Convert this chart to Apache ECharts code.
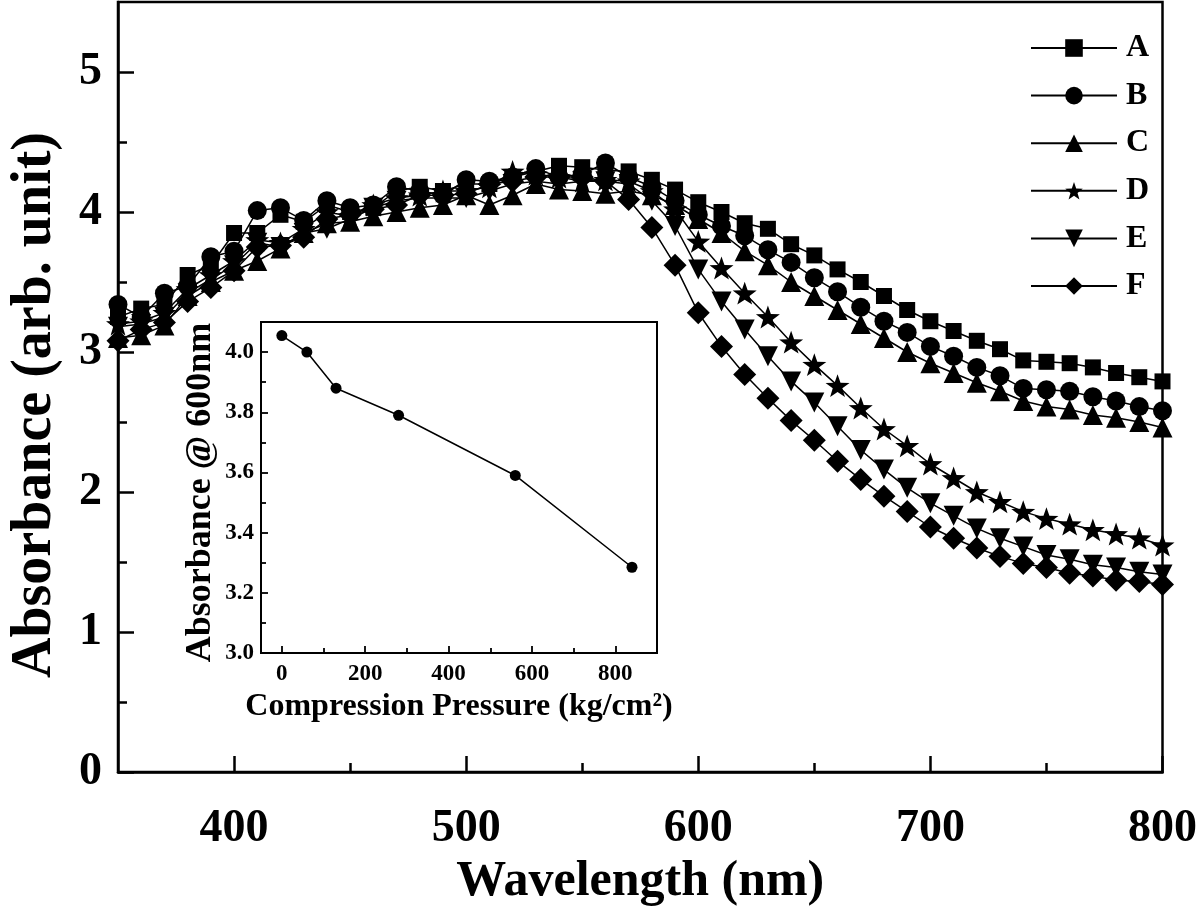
<!DOCTYPE html>
<html>
<head>
<meta charset="utf-8">
<script src="https://cdn.jsdelivr.net/npm/echarts@6/dist/echarts.min.js"></script>
<style>
html,body{margin:0;padding:0;background:#fff;}
#chart{width:1200px;height:923px;}
</style>
</head>
<body>
<div id="chart"></div>
<script>
// ---------- DATA ----------
const wavelengths = [350,360,370,380,390,400,410,420,430,440,450,460,470,480,490,500,510,520,530,540,550,560,570,580,590,600,610,620,630,640,650,660,670,680,690,700,710,720,730,740,750,760,770,780,790,800];
const seriesA = [3.25,3.31,3.34,3.55,3.62,3.85,3.85,3.98,3.93,4.05,4.00,4.03,4.15,4.18,4.15,4.20,4.20,4.25,4.29,4.33,4.32,4.30,4.29,4.23,4.16,4.07,4.00,3.92,3.88,3.77,3.69,3.59,3.50,3.40,3.30,3.22,3.15,3.08,3.02,2.94,2.93,2.92,2.89,2.85,2.82,2.79];
const seriesB = [3.34,3.25,3.42,3.47,3.68,3.72,4.01,4.03,3.94,4.08,4.03,4.05,4.18,4.15,4.12,4.23,4.22,4.25,4.31,4.25,4.27,4.35,4.25,4.18,4.08,3.98,3.90,3.83,3.73,3.64,3.53,3.43,3.32,3.22,3.14,3.04,2.97,2.89,2.83,2.74,2.73,2.72,2.68,2.65,2.61,2.58];
const seriesC = [3.10,3.12,3.19,3.40,3.50,3.58,3.65,3.74,3.85,3.92,3.93,3.97,4.00,4.03,4.05,4.12,4.05,4.12,4.20,4.16,4.15,4.13,4.15,4.12,4.05,3.95,3.85,3.72,3.62,3.50,3.40,3.30,3.20,3.10,3.00,2.92,2.85,2.78,2.72,2.65,2.61,2.59,2.55,2.53,2.50,2.46];
const seriesD = [3.20,3.22,3.28,3.45,3.55,3.65,3.80,3.78,3.88,4.00,3.97,4.05,4.10,4.12,4.15,4.15,4.18,4.29,4.27,4.25,4.22,4.23,4.22,4.15,4.02,3.79,3.60,3.42,3.25,3.07,2.91,2.76,2.60,2.45,2.33,2.20,2.10,2.00,1.93,1.86,1.81,1.77,1.73,1.70,1.67,1.62];
const seriesE = [3.18,3.20,3.25,3.42,3.52,3.62,3.78,3.75,3.85,3.88,3.95,4.03,4.08,4.10,4.10,4.10,4.15,4.20,4.22,4.20,4.22,4.22,4.20,4.08,3.90,3.59,3.36,3.16,2.97,2.79,2.64,2.47,2.30,2.16,2.03,1.92,1.83,1.74,1.67,1.61,1.55,1.52,1.48,1.46,1.43,1.41];
const seriesF = [3.08,3.16,3.21,3.36,3.46,3.58,3.75,3.76,3.82,3.95,3.98,4.02,4.05,4.12,4.12,4.13,4.20,4.22,4.25,4.25,4.25,4.22,4.09,3.89,3.62,3.28,3.04,2.84,2.67,2.51,2.37,2.22,2.09,1.97,1.86,1.75,1.67,1.60,1.54,1.49,1.46,1.42,1.40,1.37,1.36,1.34];
const seriesNames = ['A','B','C','D','E','F'];

const pressure = [0,60,130,280,560,840];
const absorbance600 = [4.055,4.00,3.88,3.79,3.59,3.285];

const mainXTicks = [400,500,600,700,800];
const mainXMinor = [450,550,650,750];
const mainYTicks = [0,1,2,3,4,5];
const mainYMinor = [0.5,1.5,2.5,3.5,4.5];
const insetXTicks = [0,200,400,600,800];
const insetXMinor = [100,300,500,700];
const insetYTicks = [3.0,3.2,3.4,3.6,3.8,4.0];
const insetYMinor = [3.1,3.3,3.5,3.7,3.9];

// ---------- CHART ----------
const FONT = "'Liberation Serif','Times New Roman',serif";
const star = 'path://M0,-10 L2.35,-3.24 9.51,-3.09 3.80,1.24 5.88,8.09 0,4.2 -5.88,8.09 -3.80,1.24 -9.51,-3.09 -2.35,-3.24 Z';
const symbols = [
  {symbol:'rect', size:16, rotate:0},
  {symbol:'circle', size:19, rotate:0},
  {symbol:'triangle', size:20, rotate:0},
  {symbol:star, size:24, rotate:0},
  {symbol:'triangle', size:20, rotate:180},
  {symbol:'diamond', size:23, rotate:0}
];
const allData = [seriesA, seriesB, seriesC, seriesD, seriesE, seriesF];

const chart = echarts.init(document.getElementById('chart'), null, {renderer:'canvas'});

function tickAxis(gridIndex, position, min, max, ticks, len, width, showLabel, labelOpt, extra) {
  return Object.assign({
    type:'value', gridIndex, position, min, max,
    axisLine:{show:true, onZero:false, lineStyle:{color:'#000', width:width}},
    axisTick:{show:true, inside:true, length:len, lineStyle:{color:'#000', width:width}, customValues:ticks},
    axisLabel: showLabel ? Object.assign({show:true, customValues:ticks, color:'#000', fontFamily:FONT, fontWeight:'bold'}, labelOpt) : {show:false},
    splitLine:{show:false}
  }, extra || {});
}
const noLine = {axisLine:{show:false, onZero:false}};

const option = {
  backgroundColor:'#fff',
  animation:false,
  grid:[
    {left:116, right:34, top:2, bottom:151, show:true, borderColor:'#000', borderWidth:2.5, containLabel:false},
    {left:261, right:543, top:322, bottom:270, show:true, borderColor:'#000', borderWidth:2, backgroundColor:'#fff', containLabel:false}
  ],
  xAxis:[
    tickAxis(0, 'bottom', 350, 800, mainXTicks, 16, 2.5, true, {fontSize:46, margin:34},
      {name:'Wavelength (nm)', nameLocation:'middle', nameGap:83,
       nameTextStyle:{color:'#000', fontFamily:FONT, fontWeight:'bold', fontSize:50}}),
    tickAxis(0, 'bottom', 350, 800, mainXMinor, 9, 2.5, false, null, noLine),
    tickAxis(1, 'bottom', -50, 900, insetXTicks, 7, 1.8, true, {fontSize:23, margin:10},
      {name:'Compression Pressure (kg/cm²)', nameLocation:'middle', nameGap:38,
       nameTextStyle:{color:'#000', fontFamily:FONT, fontWeight:'bold', fontSize:32}}),
    tickAxis(1, 'bottom', -50, 900, insetXMinor, 5, 1.8, false, null, noLine)
  ],
  yAxis:[
    tickAxis(0, 'left', 0, 5.5, mainYTicks, 16, 2.5, true, {fontSize:46, margin:16},
      {name:'Absorbance (arb. unit)', nameLocation:'middle', nameGap:54,
       nameTextStyle:{color:'#000', fontFamily:FONT, fontWeight:'bold', fontSize:56, padding:[0,36,0,0]}}),
    tickAxis(0, 'left', 0, 5.5, mainYMinor, 9, 2.5, false, null, noLine),
    tickAxis(1, 'left', 3.0, 4.1, insetYTicks, 7, 1.8, true, {fontSize:23, margin:7, formatter:v=>v.toFixed(1)},
      {name:'Absorbance @ 600nm', nameLocation:'middle', nameGap:42,
       nameTextStyle:{color:'#000', fontFamily:FONT, fontWeight:'bold', fontSize:36, padding:[0,10,0,0]}}),
    tickAxis(1, 'left', 3.0, 4.1, insetYMinor, 5, 1.8, false, null, noLine)
  ],
  legend:{
    orient:'vertical', left:1025, top:27,
    data:seriesNames,
    itemWidth:86, itemHeight:22, itemGap:15.6,
    textStyle:{color:'#000', fontFamily:FONT, fontWeight:'bold', fontSize:32, lineHeight:30, padding:[0,0,0,4]},
    inactiveColor:'#000'
  },
  series: seriesNames.map((n,i)=>({
    name:n, type:'line', xAxisIndex:0, yAxisIndex:0,
    data: wavelengths.map((w,j)=>[w, allData[i][j]]),
    symbol: symbols[i].symbol, symbolSize: symbols[i].size, symbolRotate: symbols[i].rotate,
    symbolKeepAspect:true, showAllSymbol:true,
    itemStyle:{color:'#000'},
    lineStyle:{color:'#000', width:1.5},
    z: 2
  })).concat([{
    name:'inset', type:'line', xAxisIndex:2, yAxisIndex:2,
    data: pressure.map((p,j)=>[p, absorbance600[j]]),
    symbol:'circle', symbolSize:11, showAllSymbol:true,
    itemStyle:{color:'#000'}, lineStyle:{color:'#000', width:1.5}, z:5
  }])
};
chart.setOption(option);
</script>
</body>
</html>
